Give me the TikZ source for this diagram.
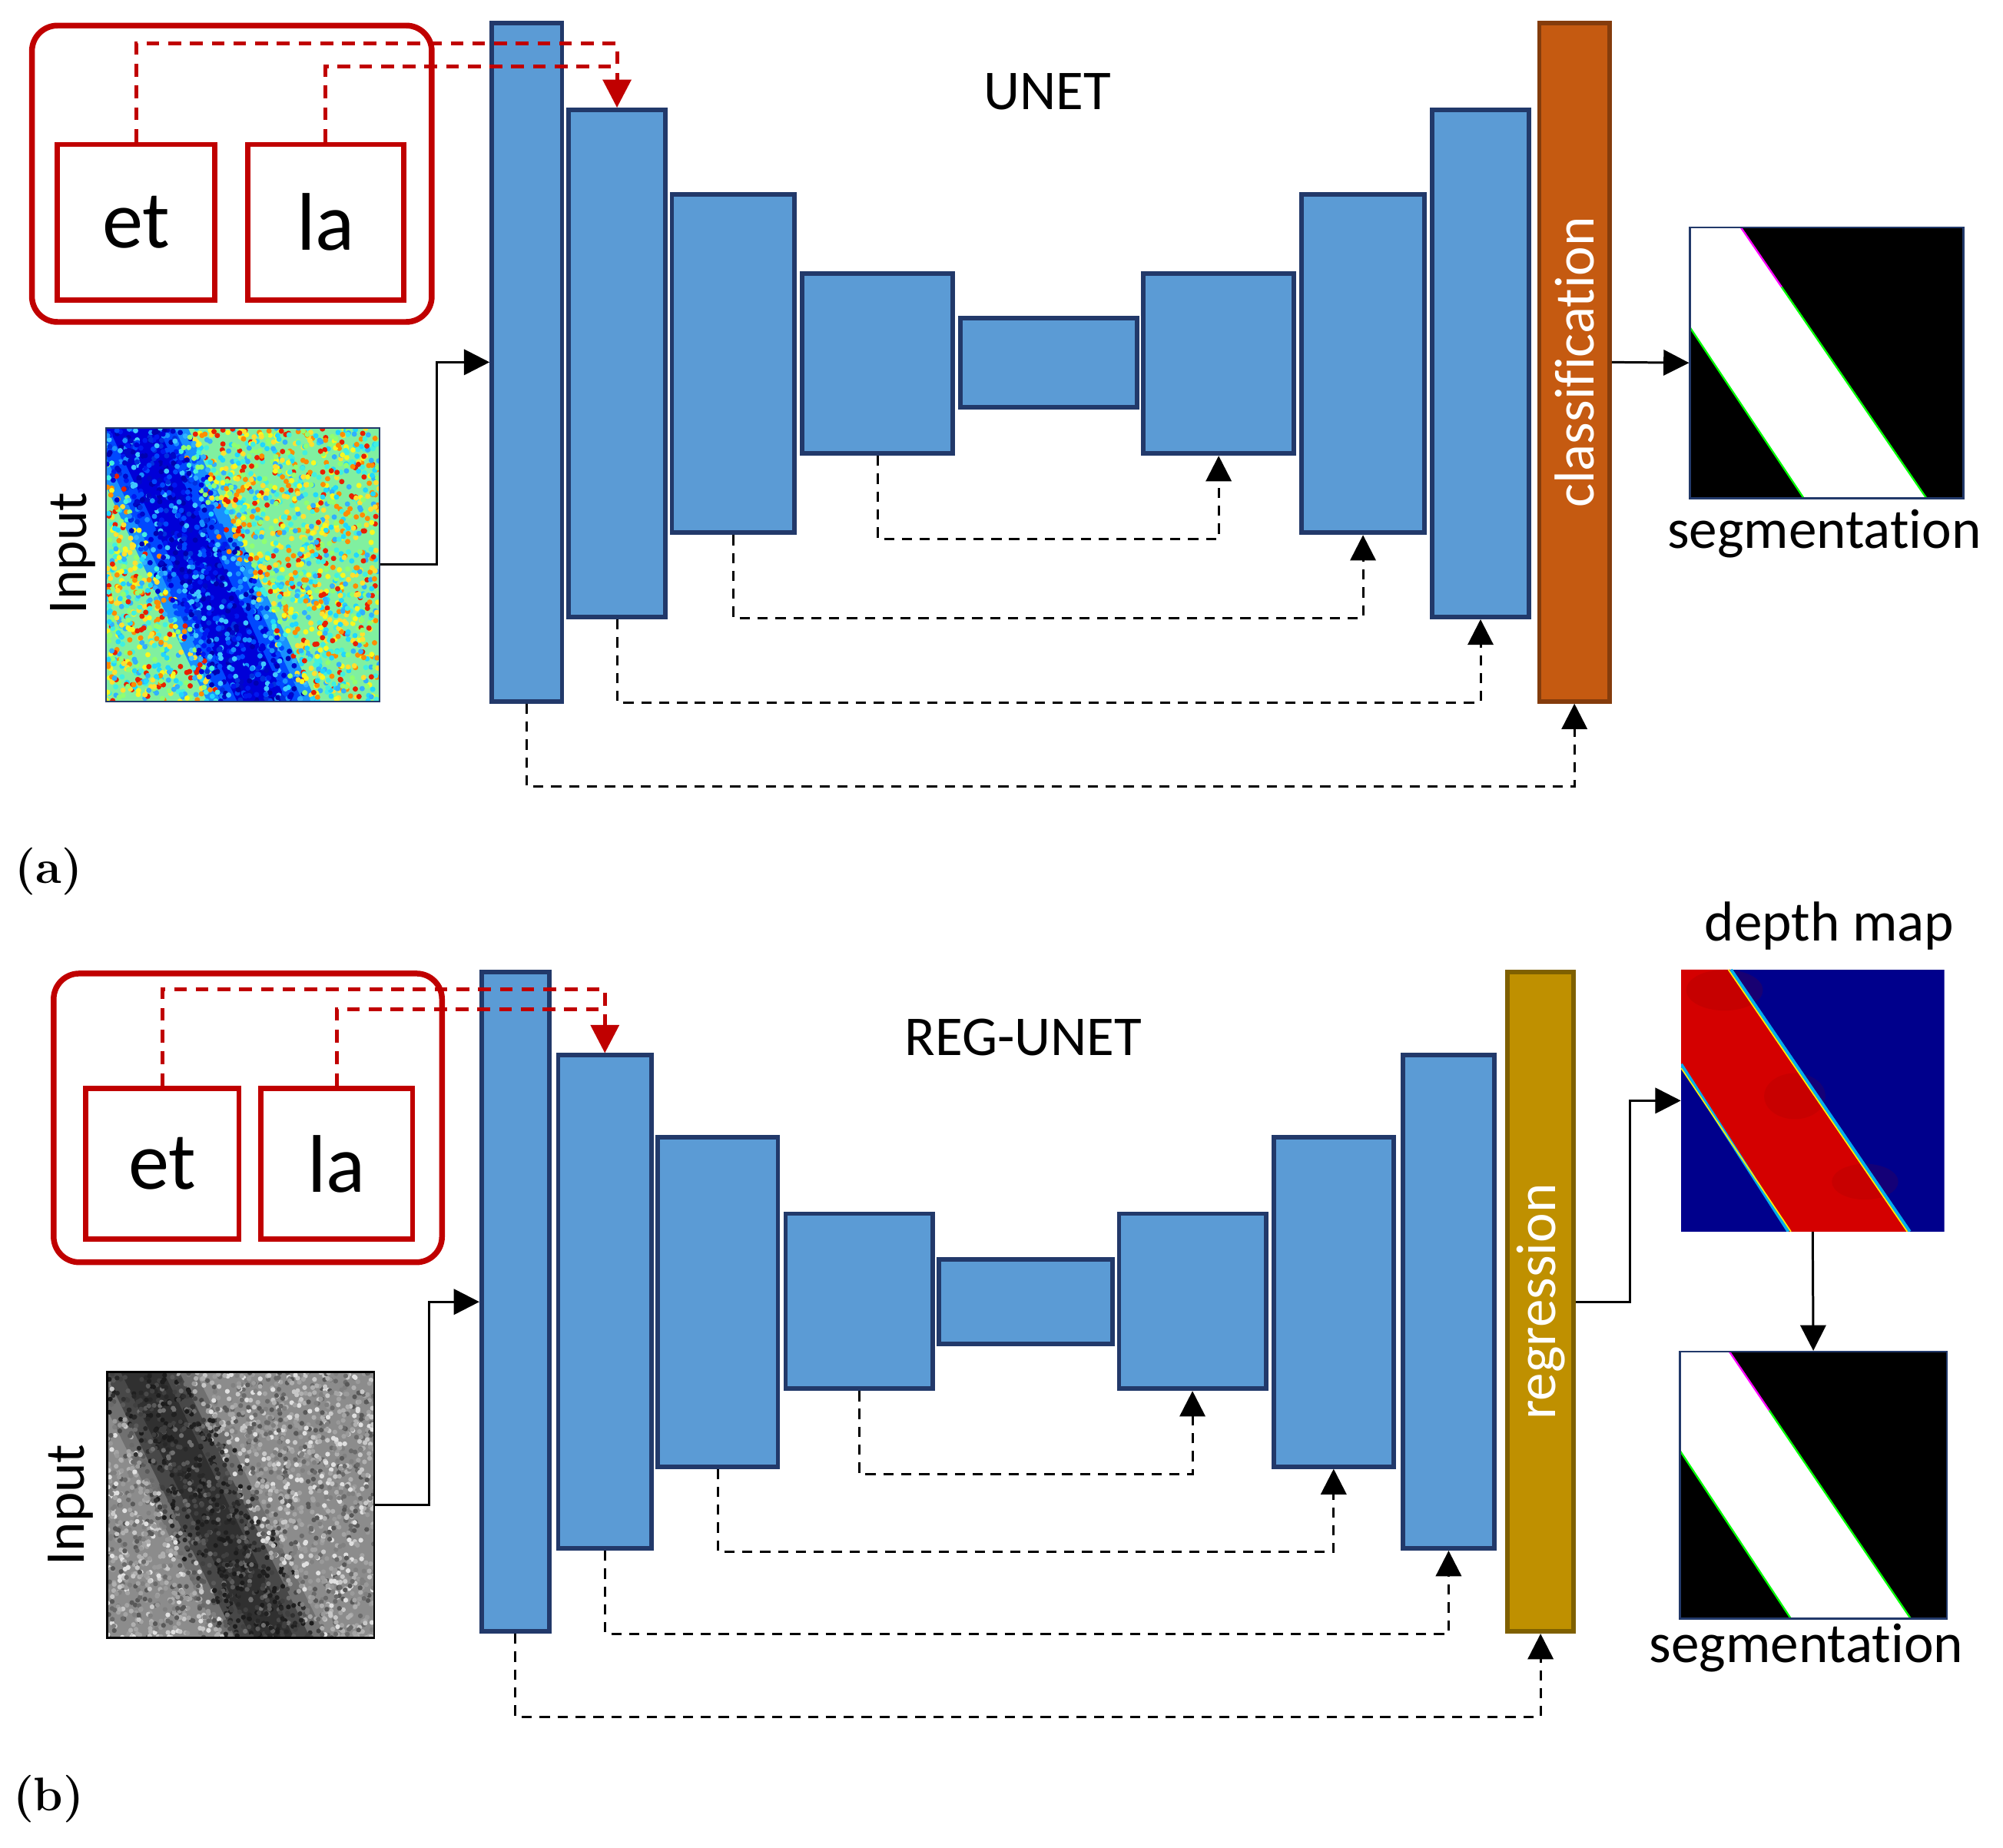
\documentclass[tikz,border=0pt]{standalone}
\usepackage{fontspec}
\usepackage{tikz}
\usetikzlibrary{arrows.meta,fit,calc}
\newfontfamily\calibri[Ligatures=NoCommon]{Carlito}
\definecolor{blkfill}{HTML}{5B9BD5}
\definecolor{blkline}{HTML}{22396A}
\definecolor{clsfill}{HTML}{C55A11}
\definecolor{clsline}{HTML}{843C0C}
\definecolor{regfill}{HTML}{BF9000}
\definecolor{regline}{HTML}{7F6000}
\definecolor{redc}{HTML}{C00000}
\definecolor{jbg}{HTML}{80F0A0}
\definecolor{jet00}{HTML}{20D8FF}
\definecolor{jet01}{HTML}{F8F820}
\definecolor{jet02}{HTML}{90FF70}
\definecolor{jet03}{HTML}{FF8C00}
\definecolor{jet04}{HTML}{40F0E0}
\definecolor{jet05}{HTML}{FFE030}
\definecolor{jet06}{HTML}{E82000}
\definecolor{jet07}{HTML}{30B0FF}
\definecolor{jet10}{HTML}{0000D8}
\definecolor{jet11}{HTML}{0018F0}
\definecolor{jet12}{HTML}{0048FF}
\definecolor{jet13}{HTML}{0000B0}
\definecolor{jet14}{HTML}{1890FF}
\definecolor{jet15}{HTML}{0030E0}
\definecolor{jet16}{HTML}{0008C8}
\definecolor{jet17}{HTML}{40C8FF}
\definecolor{gbg}{HTML}{8C8C8C}
\definecolor{gry00}{HTML}{C8C8C8}
\definecolor{gry01}{HTML}{9A9A9A}
\definecolor{gry02}{HTML}{6A6A6A}
\definecolor{gry03}{HTML}{E0E0E0}
\definecolor{gry04}{HTML}{808080}
\definecolor{gry05}{HTML}{B0B0B0}
\definecolor{gry06}{HTML}{585858}
\definecolor{gry07}{HTML}{A4A4A4}
\definecolor{gry10}{HTML}{202020}
\definecolor{gry11}{HTML}{404040}
\definecolor{gry12}{HTML}{303030}
\definecolor{gry13}{HTML}{5A5A5A}
\definecolor{gry14}{HTML}{1C1C1C}
\definecolor{gry15}{HTML}{484848}
\definecolor{gry16}{HTML}{707070}
\definecolor{gry17}{HTML}{282828}
\definecolor{dmblue}{HTML}{00008C}
\definecolor{dmred}{HTML}{D40000}
\definecolor{dmdark}{HTML}{8A0000}
\definecolor{seggrn}{HTML}{00FF00}
\definecolor{segmag}{HTML}{FF00FF}

\begin{document}
\begin{tikzpicture}[x=1pt,y=-1pt,
  blk/.style={draw=blkline, fill=blkfill, line width=3.5pt, inner sep=0pt},
  clsbox/.style={blk, draw=clsline, fill=clsfill},
  regbox/.style={blk, draw=regline, fill=regfill},
  grp/.style={draw=redc, line width=4.5pt, rounded corners=20pt, inner sep=0pt},
  tok/.style={draw=redc, line width=4pt, inner sep=0pt},
  toktext/.style={font=\calibri\fontsize{64}{70}\selectfont},
  lbl/.style={font=\calibri\fontsize{44}{50}\selectfont},
  imgbox/.style={draw=blkline, line width=1.5pt, inner sep=0pt},
  arr/.style={line width=1.8pt, -{Triangle[length=20pt,width=20pt]}},
  skip/.style={arr, dash pattern=on 8pt off 6pt},
  rdash/.style={draw=redc, line width=3pt, dash pattern=on 10pt off 7pt},
  rarr/.style={rdash, -{Triangle[length=22pt,width=22pt]}},
  tag/.style={font=\bfseries\fontsize{37}{40}\selectfont}]
\useasboundingbox (0,0) rectangle (1568,1446);

\begin{scope}
  \clip (83,335) rectangle (297,549);
  \fill[jbg] (83,335) rectangle (297,549);
  \fill[jet14] (61.6,335) -- (147.2,335) -- (247.8,549) -- (162.2,549) -- cycle;
  \fill[jet12] (72.3,335) -- (136.5,335) -- (237.1,549) -- (172.9,549) -- cycle;
  \fill[jet10] (85.1,335) -- (123.7,335) -- (224.3,549) -- (185.7,549) -- cycle;
  \pgfmathsetseed{11}
  \foreach \nn in {1,...,2600}{
    \pgfmathsetmacro{\pu}{rnd}
    \pgfmathsetmacro{\pv}{rnd}
    \pgfmathtruncatemacro{\pz}{abs(\pu-0.1-0.47*\pv)<0.12+0.09*rnd}
    \pgfmathtruncatemacro{\pc}{7.999*rnd}
    \fill[jet\pz\pc] (83+214*\pu,335+214*\pv) circle (2.1);
  }
\end{scope}
\node[imgbox, fit={(83,335) (297,549)}] (inA) {};

\begin{scope}
  \clip (84,1074) rectangle (293,1282);
  \fill[gbg] (84,1074) rectangle (293,1282);
  \fill[gry16] (69.4,1074) -- (153,1074) -- (255.4,1282) -- (171.8,1282) -- cycle;
  \fill[gry15] (82,1074) -- (140.5,1074) -- (242.8,1282) -- (184.3,1282) -- cycle;
  \fill[gry12] (94.5,1074) -- (128,1074) -- (230.3,1282) -- (196.9,1282) -- cycle;
  \pgfmathsetseed{23}
  \foreach \nn in {1,...,2600}{
    \pgfmathsetmacro{\pu}{rnd}
    \pgfmathsetmacro{\pv}{rnd}
    \pgfmathtruncatemacro{\pz}{abs(\pu-0.13-0.49*\pv)<0.12+0.09*rnd}
    \pgfmathtruncatemacro{\pc}{7.999*rnd}
    \fill[gry\pz\pc] (84+209*\pu,1074+208*\pv) circle (1.9);
  }
\end{scope}
\node[draw=black, line width=1.5pt, inner sep=0pt, fit={(84,1074) (293,1282)}] (inB) {};

\begin{scope}
  \clip (1316,759) rectangle (1522,964);
  \fill[dmblue] (1316,759) rectangle (1522,964);
  \fill[dmred] (1316,759) -- (1355,759) -- (1495,964) -- (1400,964) -- (1316,833) -- cycle;
  \fill[dmdark, opacity=.18] (1350,775) ellipse (30 and 16);
  \fill[dmdark, opacity=.15] (1405,858) ellipse (24 and 18);
  \fill[dmdark, opacity=.15] (1460,925) ellipse (26 and 14);
  \draw[cyan, line width=2.5pt] (1355,759) -- (1495,964) (1316,833) -- (1400,964);
  \draw[yellow, line width=1pt] (1353,759) -- (1493,964) (1316,836) -- (1402,964);
\end{scope}
\node[inner sep=0pt, fit={(1316,759) (1522,964)}] (dep) {};

\foreach \n/\x/\y/\w/\h in {segA/1323/178/214/212, segB/1315/1058/209/209}{
  \fill[black] (\x,\y) rectangle ++(\w,\h);
  \fill[white] (\x,\y) -- ++(0.186*\w,0) -- (\x+0.865*\w,\y+\h) -- (\x+0.416*\w,\y+\h) -- (\x,\y+0.37*\h) -- cycle;
  \draw[segmag, line width=1.4pt] (\x+0.186*\w,\y) -- (\x+0.335*\w,\y+0.22*\h);
  \draw[seggrn, line width=1.4pt] (\x+0.335*\w,\y+0.22*\h) -- (\x+0.865*\w,\y+\h);
  \draw[seggrn, line width=1.4pt] (\x,\y+0.37*\h) -- (\x+0.416*\w,\y+\h);
  \node[imgbox, fit={(\x,\y) (\x+\w,\y+\h)}] (\n) {};
}

\foreach \n/\xa/\ya/\xb/\yb in {a1/385/18/440/549, a2/445/86/521/483, a3/526/152/622/417,
    a4/628/214/746/355, a5/752/249/890/319, a6/895/214/1013/355, a7/1019/152/1115/417,
    a8/1121/86/1197/483, b1/377/761/430/1277, b2/437/826/510/1212, b3/515/890/609/1148,
    b4/615/950/730/1087, b5/735/986/871/1052, b6/876/950/991/1087, b7/997/890/1091/1148,
    b8/1098/826/1170/1212}
  \node[blk, fit={(\xa,\ya) (\xb,\yb)}] (\n) {};
\node[clsbox, fit={(1205,18) (1260,549)}] (cls) {};
\node[regbox, fit={(1180,761) (1232,1277)}] (reg) {};
\node[lbl, white, rotate=90] at (cls) {classification};
\node[lbl, white, rotate=90] at (reg) {regression};

\node[grp, fit={(25,20) (338,252)}] (grpA) {};
\node[tok, fit={(45,113) (168,235)}] (etA) {};
\node[tok, fit={(194,113) (316,235)}] (laA) {};
\node[grp, fit={(42,762) (346,988)}] (grpB) {};
\node[tok, fit={(67,852) (187,970)}] (etB) {};
\node[tok, fit={(204,852) (323,970)}] (laB) {};
\foreach \n/\t in {etA/et, laA/la, etB/et, laB/la}
  \node[toktext] at (\n) {\t};

\draw[rarr] (etA.north) |- ($(a2.north)+(0,-50)$) -- (a2.north);
\draw[rdash] (laA.north) |- ($(a2.north)+(0,-32)$);
\draw[rarr] (etB.north) |- ($(b2.north)+(0,-50)$) -- (b2.north);
\draw[rdash] (laB.north) |- ($(b2.north)+(0,-34)$);

\draw[arr] (inA.east) -- ++(44,0) |- (a1.west);
\draw[arr] (cls.east) -- (segA.west);
\draw[arr] (inB.east) -- ++(42,0) |- (b1.west);
\draw[arr] (reg.east) -- ++(42,0) |- (dep.west);
\draw[arr] (dep.south) -- (segB.north);

\foreach \s/\t in {a4/a6, a3/a7, a2/a8, a1/cls, b4/b6, b3/b7, b2/b8, b1/reg}
  \draw[skip] (\s.south) -- ++(0,65) -| (\t.south);

\node[lbl] at (820,72) {UNET};
\node[lbl] at (801,812) {REG-UNET};
\node[lbl, rotate=90] at (57,433) {Input};
\node[lbl, rotate=90] at (55,1178) {Input};
\node[lbl] at (1428,418) {segmentation};
\node[lbl] at (1432,725) {depth map};
\node[lbl] at (1414,1290) {segmentation};
\node[tag] at (38,682) {(a)};
\node[tag] at (38,1408) {(b)};
\end{tikzpicture}
\end{document}
